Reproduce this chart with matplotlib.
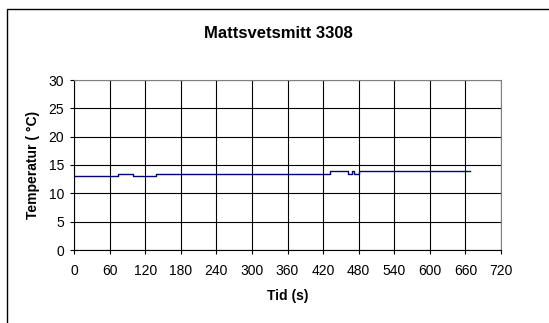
import matplotlib
matplotlib.use("Agg")
import matplotlib.pyplot as plt
from matplotlib.patches import Rectangle

plt.rcParams['font.family'] = ['Liberation Sans', 'DejaVu Sans']

time_s = [0, 75, 100, 138, 432, 462, 468, 472, 480, 667]
temp_c = [13.0, 13.5, 13.0, 13.5, 14.0, 13.5, 14.0, 13.5, 14.0, 14.0]
x_ticks = list(range(0, 721, 60))
y_ticks = list(range(0, 31, 5))

fig = plt.figure(figsize=(5.49, 3.23), dpi=100)
fig.patches.append(Rectangle((7/549, -0.05), 1.0, 1 - 9/323 + 0.05, transform=fig.transFigure,
                             fill=False, edgecolor='black', linewidth=1.0))
ax = fig.add_axes([74/549, (323-250)/323, (501-74)/549, (250-80)/323])

ax.plot(time_s, temp_c, drawstyle='steps-post', color='#000080', linewidth=1.0)
ax.set_xlim(0, 720)
ax.set_ylim(0, 30)
ax.set_xticks(x_ticks)
ax.set_yticks(y_ticks)
ax.grid(True, color='black', linewidth=0.8)
ax.set_axisbelow(True)
for s in ['top', 'right']:
    ax.spines[s].set_color('#808080')
for s in ['left', 'bottom']:
    ax.spines[s].set_color('black')
ax.tick_params(labelsize=10, length=3, width=0.8, direction='out')
ax.tick_params(axis='x', pad=7)
ax.tick_params(axis='y', pad=4)
ax.set_xlabel('Tid (s)', fontsize=10, fontweight='bold', labelpad=8)
ax.set_ylabel('Temperatur ( °C)', fontsize=10, fontweight='bold', labelpad=6)
fig.text(278/549, 1 - 33/323, 'Mattsvetsmitt 3308', ha='center', va='center',
         fontsize=12, fontweight='bold')

fig.savefig('out.png', dpi=100)
